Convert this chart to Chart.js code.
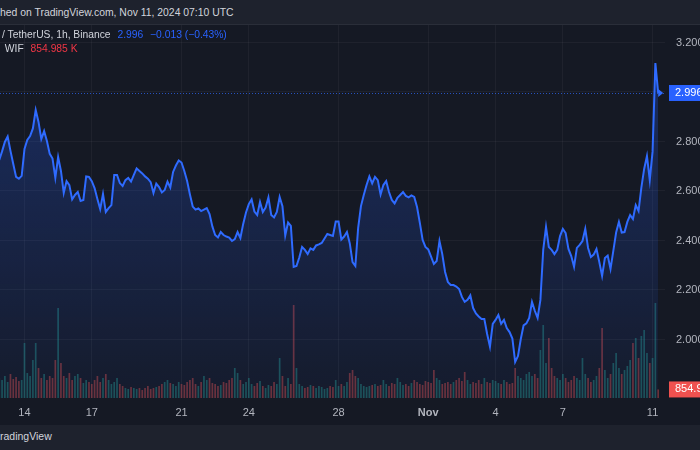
<!DOCTYPE html>
<html>
<head>
<meta charset="utf-8">
<script src="https://cdn.jsdelivr.net/npm/chart.js"></script>
<style>
  body { margin: 0; width: 700px; height: 450px; overflow: hidden; background: #151924; position: relative; font-family: "Liberation Sans", Arial, sans-serif; }
  #header { position: absolute; left: 0; top: 0; width: 700px; height: 24px; background: #1e222d; border-bottom: 1px solid #2a2e39; color: #d1d4dc; font-size: 10.4px; line-height: 25px; white-space: nowrap; }
  #wrap { position: absolute; left: 0; top: 25px; width: 700px; height: 400px; }
  #legend { position: absolute; left: 2px; top: 28px; font-size: 10.3px; color: #d1d4dc; line-height: 14px; white-space: nowrap; }
  #legend .blue { color: #2962ff; margin-left: 4px; }
  #legend .red { color: #f23645; margin-left: 4px; }
  #footer { position: absolute; left: 0; top: 425px; width: 700px; height: 25px; background: #1e222d; color: #d1d4dc; font-size: 10.5px; line-height: 22px; }
</style>
</head>
<body>
<div id="header">hed on TradingView.com, Nov 11, 2024 07:10 UTC</div>
<div id="wrap"><canvas id="chart" width="700" height="400"></canvas></div>
<div id="legend">
  <div>/ TetherUS, 1h, Binance <span class="blue">2.996</span> <span class="blue">−0.013 (−0.43%)</span></div>
  <div>&nbsp;WIF <span class="red">854.985 K</span></div>
</div>
<div id="footer">radingView</div>
<script>
// hours counted from Oct 14 00:00 UTC, one value every 3 hours
const startHour = -27;
const stepHours = 3;

const prices = [
  2.725, 2.760, 2.798, 2.820, 2.762, 2.709, 2.657, 2.650, 2.661, 2.770,
  2.806, 2.822, 2.853, 2.927, 2.879, 2.810, 2.842, 2.802, 2.750, 2.731,
  2.653, 2.737, 2.681, 2.592, 2.640, 2.624, 2.566, 2.584, 2.596, 2.560,
  2.564, 2.659, 2.657, 2.640, 2.612, 2.568, 2.527, 2.588, 2.515, 2.531,
  2.543, 2.665, 2.665, 2.632, 2.620, 2.644, 2.653, 2.638, 2.665, 2.691,
  2.681, 2.671, 2.659, 2.650, 2.636, 2.592, 2.630, 2.616, 2.594, 2.604,
  2.638, 2.614, 2.677, 2.703, 2.723, 2.715, 2.681, 2.640, 2.586, 2.537,
  2.525, 2.530, 2.519, 2.525, 2.531, 2.507, 2.457, 2.422, 2.412, 2.434,
  2.422, 2.416, 2.412, 2.398, 2.406, 2.434, 2.410, 2.467, 2.513, 2.547,
  2.566, 2.517, 2.503, 2.556, 2.515, 2.533, 2.574, 2.503, 2.493, 2.515,
  2.576, 2.539, 2.420, 2.473, 2.459, 2.293, 2.297, 2.331, 2.374, 2.362,
  2.345, 2.368, 2.362, 2.380, 2.384, 2.390, 2.408, 2.426, 2.422, 2.418,
  2.477, 2.477, 2.404, 2.416, 2.434, 2.389, 2.313, 2.297, 2.451, 2.539,
  2.584, 2.624, 2.659, 2.631, 2.657, 2.644, 2.586, 2.624, 2.640, 2.596,
  2.564, 2.550, 2.572, 2.584, 2.596, 2.580, 2.574, 2.582, 2.576, 2.535,
  2.471, 2.402, 2.374, 2.364, 2.335, 2.305, 2.317, 2.398, 2.345, 2.273,
  2.232, 2.220, 2.220, 2.214, 2.204, 2.172, 2.152, 2.160, 2.178, 2.127,
  2.105, 2.093, 2.083, 2.083, 2.022, 1.971, 2.063, 2.079, 2.099, 2.063,
  2.079, 2.046, 2.030, 2.004, 1.909, 1.933, 2.002, 2.057, 2.065, 2.087,
  2.152, 2.116, 2.087, 2.160, 2.362, 2.455, 2.374, 2.362, 2.345, 2.362,
  2.418, 2.447, 2.430, 2.366, 2.337, 2.294, 2.370, 2.382, 2.398, 2.447,
  2.370, 2.333, 2.343, 2.366, 2.313, 2.257, 2.329, 2.339, 2.285, 2.358,
  2.432, 2.475, 2.432, 2.434, 2.475, 2.503, 2.487, 2.543, 2.519, 2.614,
  2.689, 2.741, 2.644, 2.759, 3.117, 2.996
];

// volume, millions
const volumes = [
  2.0, 1.8, 2.2, 1.6, 2.4, 1.9, 2.1, 1.7,
  1.8, 5.5, 2.5, 2.2, 3.8, 5.5, 3.0,
  2.0, 2.4, 1.8, 2.2, 2.0,
  3.8, 9.0, 3.5, 2.2,
  2.0, 2.5, 1.8, 2.2, 2.4, 2.0, 1.5, 1.8, 1.6,
  1.4, 1.8, 2.2, 1.6, 2.0, 2.4, 1.8, 1.4,
  1.6, 2.0, 1.4, 1.2, 1.0, 0.9, 1.1, 1.0,
  0.9, 1.0, 0.8, 1.0, 1.2, 0.9, 1.0, 1.1,
  1.2, 1.4, 1.6, 1.8, 1.5, 1.4, 1.2, 1.6,
  1.4, 1.3, 1.6, 1.8, 2.0, 1.4, 1.2, 1.6,
  2.2, 1.8, 2.0, 1.5, 1.4, 1.2, 1.3, 1.6,
  1.5, 1.8, 2.0, 3.0, 2.5, 1.8, 1.4, 1.6,
  2.0, 1.4, 1.2, 1.5, 1.7, 1.2, 1.0, 1.3,
  1.2, 1.6, 1.4, 4.0, 2.2, 1.2, 2.0, 1.4,
  9.3, 3.0, 1.4, 1.2, 1.0, 1.1, 1.3, 1.2,
  1.0, 1.2, 1.1, 0.9, 1.0, 1.2, 1.1, 1.8,
  1.2, 1.4, 1.2, 1.6, 2.5, 2.8, 2.2, 2.0,
  1.4, 1.2, 1.1, 1.2, 1.3, 1.4, 1.2, 1.3,
  1.8, 1.4, 1.2, 1.5, 1.4, 2.0, 1.6, 1.3,
  1.4, 1.2, 1.5, 1.8, 1.6, 1.4, 1.3, 1.7,
  1.6, 1.5, 2.8, 2.0, 1.8, 1.4, 1.5, 1.6,
  1.4, 1.6, 1.8, 2.0, 1.7, 2.6, 1.8, 1.4,
  1.6, 1.5, 1.8, 1.4, 2.0, 1.6, 1.5, 1.8,
  1.7, 1.5, 1.4, 1.8, 1.6, 1.4, 1.5, 3.0,
  2.2, 2.0, 1.8, 2.4, 2.6, 2.2, 2.4, 2.0,
  4.8, 7.3, 3.5, 6.0, 3.0,
  2.2, 2.0, 1.8, 2.4, 2.0, 1.6, 1.8, 2.2,
  2.0, 1.8, 4.0, 2.4, 2.0, 1.6, 1.8, 2.2,
  3.0, 7.0, 2.8, 2.0, 2.4, 3.5, 4.5, 3.0,
  2.4, 2.8, 3.2, 3.8, 5.5, 6.0,
  4.0, 6.2, 6.8, 4.5, 3.5, 4.0, 9.5, 0.855
];

const tickHours = [0, 72, 168, 240, 336, 432, 504, 576, 672];
const tickLabels = ["14", "17", "21", "24", "28", "Nov", "4", "7", "11"];
const priceTicks = [2.0, 2.2, 2.4, 2.6, 2.8, 3.0, 3.2];

const lastPrice = 2.996;
const lastVolumeText = "854.985K";

const blue = "#2f6bff";
const gridColor = "rgba(255,255,255,0.045)";

let pricePoints = prices.map((p, i) => ({ x: startHour + i * stepHours, y: p }));
let volumePoints = volumes.map((v, i) => ({ x: startHour + i * stepHours, y: v }));
let volumeColors = prices.map((p, i) =>
  i === 0 || p >= prices[i - 1] ? "rgba(38,166,154,0.4)" : "rgba(239,83,80,0.4)"
);

const markers = {
  id: "markers",
  beforeDatasetsDraw(chart) {
    const c = chart.ctx, a = chart.chartArea;
    const y = chart.scales.y.getPixelForValue(lastPrice);
    c.save();
    c.strokeStyle = "rgba(47,107,255,0.7)";
    c.lineWidth = 1;
    c.setLineDash([1, 2]);
    c.beginPath();
    c.moveTo(a.left, Math.round(y) + 0.5);
    c.lineTo(a.right, Math.round(y) + 0.5);
    c.stroke();
    c.restore();
  },
  afterDraw(chart) {
    const c = chart.ctx, a = chart.chartArea;
    const meta = chart.getDatasetMeta(0);
    const last = meta.data[meta.data.length - 1];
    c.save();
    // arrow at the end of the line
    c.fillStyle = blue;
    c.beginPath();
    c.moveTo(last.x, last.y - 4);
    c.lineTo(last.x + 5, last.y);
    c.lineTo(last.x, last.y + 4);
    c.closePath();
    c.fill();
    // price label
    const py = chart.scales.y.getPixelForValue(lastPrice);
    c.fillStyle = "#2962ff";
    c.fillRect(a.right + 4, py - 8, 40, 16);
    c.fillStyle = "#ffffff";
    c.font = "11px 'Liberation Sans', Arial, sans-serif";
    c.textBaseline = "middle";
    c.fillText(lastPrice.toFixed(3), a.right + 10, py);
    // volume label
    const vy = chart.scales.y2.getPixelForValue(volumes[volumes.length - 1]);
    c.fillStyle = "#f0514f";
    c.fillRect(a.right + 4, vy - 8, 40, 16);
    c.fillStyle = "#ffffff";
    c.fillText(lastVolumeText, a.right + 10, vy);
    c.restore();
  }
};

const noPad = (s) => { s.paddingTop = 0; s.paddingBottom = 0; s.paddingLeft = 0; s.paddingRight = 0; };

new Chart(document.getElementById("chart"), {
  data: {
    datasets: [
      {
        type: "line",
        data: pricePoints,
        borderColor: blue,
        borderWidth: 2,
        pointRadius: 0,
        tension: 0,
        fill: "start",
        backgroundColor: (ctx) => {
          const a = ctx.chart.chartArea;
          if (!a) return "rgba(41,98,255,0.15)";
          const g = ctx.chart.ctx.createLinearGradient(0, a.top, 0, a.bottom);
          g.addColorStop(0, "rgba(41,98,255,0.30)");
          g.addColorStop(1, "rgba(41,98,255,0.04)");
          return g;
        },
        yAxisID: "y",
        order: 0
      },
      {
        type: "bar",
        data: volumePoints,
        backgroundColor: volumeColors,
        barPercentage: 0.6,
        categoryPercentage: 1,
        yAxisID: "y2",
        order: 1
      }
    ]
  },
  options: {
    responsive: false,
    animation: false,
    layout: { padding: 0 },
    plugins: { legend: { display: false }, tooltip: { enabled: false } },
    scales: {
      x: {
        type: "linear",
        offset: false,
        min: -26.2,
        max: 685.3,
        afterBuildTicks: (s) => { s.ticks = tickHours.map((v) => ({ value: v })); },
        afterFit: (s) => { s.height = 27; noPad(s); },
        ticks: {
          autoSkip: false,
          maxRotation: 0,
          padding: 8,
          color: "#b2b5be",
          font: (c) => ({ family: "'Liberation Sans', Arial, sans-serif", size: 11, weight: tickLabels[c.index] === "Nov" ? "bold" : "normal" }),
          callback: (v) => tickLabels[tickHours.indexOf(v)]
        },
        grid: { color: gridColor, drawTicks: false, offset: false },
        border: { display: false }
      },
      y: {
        position: "right",
        min: 1.7636,
        max: 3.2707,
        afterBuildTicks: (s) => { s.ticks = priceTicks.map((v) => ({ value: v })); },
        afterFit: (s) => { s.width = 35; noPad(s); },
        ticks: {
          padding: 11,
          color: "#b2b5be",
          font: { family: "'Liberation Sans', Arial, sans-serif", size: 11 },
          callback: (v) => v.toFixed(3)
        },
        grid: { color: gridColor, drawTicks: false },
        border: { display: false }
      },
      y2: {
        display: false,
        min: 0,
        max: 37.3
      }
    }
  },
  plugins: [markers]
});
</script>
</body>
</html>
